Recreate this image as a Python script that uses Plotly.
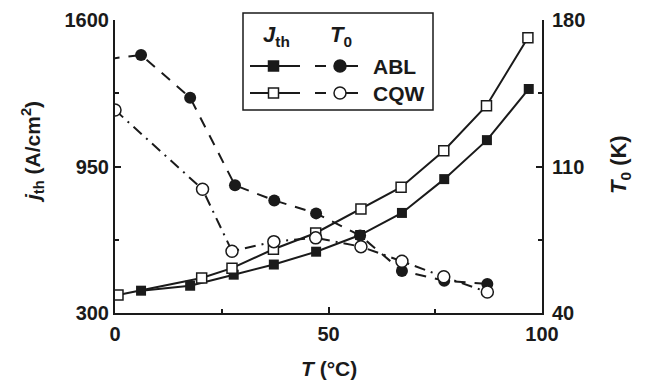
import plotly.graph_objects as go

# ---- data ----
T_abl_J = [6.1, 17.6, 27.8, 37.2, 47.1, 57.4, 67.2, 77.1, 87.1, 96.9]
J_abl = [399, 421, 470, 515, 572, 646, 744, 894, 1067, 1294]

T_cqw_J = [0.7, 20.3, 27.4, 37.1, 47.0, 57.6, 67.0, 77.0, 87.0, 96.7]
J_cqw = [380, 455, 499, 583, 655, 761, 858, 1020, 1220, 1521]

T_abl_T0 = [-1.5, 6.1, 17.6, 28.1, 37.3, 47.1, 57.4, 67.2, 77.1, 87.2]
T0_abl = [161.4, 163.3, 142.9, 101.0, 93.8, 87.6, 77.0, 60.1, 55.4, 53.9]

T_cqw_T0 = [0.0, 20.5, 27.4, 37.2, 47.0, 57.6, 67.2, 77.0, 87.2]
T0_cqw = [137.0, 99.1, 69.5, 74.1, 75.9, 71.7, 64.7, 57.3, 50.0]

x_ticks = [0, 50, 100]
j_ticks = [300, 950, 1600]
t0_ticks = [40, 110, 180]

FONT = "Liberation Sans, Arial, sans-serif"
INK = "#1a1a1a"
W, H = 649, 384
L, R, T, B = 115, 542, 20, 313  # plot area in pixels

fig = go.Figure()

fig.add_trace(go.Scatter(
    x=T_abl_J, y=J_abl, mode="lines+markers", name="ABL Jth",
    line=dict(color=INK, width=2),
    marker=dict(symbol="square", size=10, color=INK),
))
fig.add_trace(go.Scatter(
    x=T_cqw_J, y=J_cqw, mode="lines+markers", name="CQW Jth",
    line=dict(color=INK, width=2),
    marker=dict(symbol="square", size=10, color="white",
                line=dict(color=INK, width=1.5)),
))
fig.add_trace(go.Scatter(
    x=T_abl_T0, y=T0_abl, mode="lines+markers", name="ABL T0", yaxis="y2",
    line=dict(color=INK, width=2, dash="11px,9px"),
    marker=dict(symbol="circle", size=12, color=INK),
))
fig.add_trace(go.Scatter(
    x=T_cqw_T0, y=T0_cqw, mode="lines+markers", name="CQW T0", yaxis="y2",
    line=dict(color=INK, width=2, dash="11px,6px,2px,6px"),
    marker=dict(symbol="circle", size=12, color="white",
                line=dict(color=INK, width=1.5)),
))

tickfont = dict(family=FONT, size=20, color=INK, weight="bold")
common = dict(showline=True, linewidth=2, linecolor=INK, ticks="inside",
              tickwidth=2, ticklen=6, tickcolor=INK, showgrid=False,
              zeroline=False, tickfont=tickfont, automargin=False)
minor_style = dict(ticks="inside", ticklen=4, tickwidth=2, tickcolor=INK)

fig.update_layout(
    width=W, height=H,
    margin=dict(l=L, r=W - R, t=T, b=H - B, pad=0),
    plot_bgcolor="white", paper_bgcolor="white",
    showlegend=False,
    xaxis=dict(range=[0, 100], tickvals=x_ticks, ticktext=[str(v) for v in x_ticks],
               minor=dict(tickvals=[25, 75], **minor_style), ticklabelstandoff=2, **common),
    yaxis=dict(range=[300, 1600], tickvals=j_ticks, ticktext=[str(v) for v in j_ticks],
               minor=dict(tickvals=[625, 1275], **minor_style), **common),
    yaxis2=dict(range=[40, 180], overlaying="y", side="right",
                tickvals=t0_ticks, ticktext=[str(v) for v in t0_ticks],
                minor=dict(tickvals=[75, 145], **minor_style), ticklabelstandoff=4, **common),
)


def px(x):
    return (x - L) / (R - L)


def py(y):
    return (B - y) / (B - T)


shapes = []
ann = []

# legend box
shapes.append(dict(type="rect", xref="paper", yref="paper",
                   x0=px(243), x1=px(433), y0=py(110), y1=py(13),
                   line=dict(color=INK, width=1.5), fillcolor="white", layer="above"))

rows = [(66, INK, "ABL"), (93, "white", "CQW")]
for yy, fill, lab in rows:
    shapes.append(dict(type="line", xref="paper", yref="paper",
                       x0=px(250), x1=px(300), y0=py(yy), y1=py(yy),
                       line=dict(color=INK, width=2)))
    shapes.append(dict(type="rect", xref="paper", yref="paper",
                       x0=px(268.5), x1=px(278.5), y0=py(yy + 5), y1=py(yy - 5),
                       fillcolor=fill, line=dict(color=INK, width=1.5)))
    shapes.append(dict(type="line", xref="paper", yref="paper",
                       x0=px(315), x1=px(326), y0=py(yy), y1=py(yy),
                       line=dict(color=INK, width=2)))
    shapes.append(dict(type="line", xref="paper", yref="paper",
                       x0=px(345), x1=px(358), y0=py(yy), y1=py(yy),
                       line=dict(color=INK, width=2)))
    shapes.append(dict(type="circle", xref="paper", yref="paper",
                       x0=px(334), x1=px(346), y0=py(yy + 6), y1=py(yy - 6),
                       fillcolor=fill, line=dict(color=INK, width=1.5)))
    ann.append(dict(xref="paper", yref="paper", x=px(371), y=py(yy), xanchor="left",
                    yanchor="middle", showarrow=False, text=f"<b>{lab}</b>",
                    font=dict(family=FONT, size=21, color=INK)))

ann.append(dict(xref="paper", yref="paper", x=px(276), y=py(36), xanchor="center",
                yanchor="middle", showarrow=False, text="<b><i>J</i><sub>th</sub></b>",
                font=dict(family=FONT, size=22, color=INK)))
ann.append(dict(xref="paper", yref="paper", x=px(341), y=py(36), xanchor="center",
                yanchor="middle", showarrow=False, text="<b><i>T</i><sub>0</sub></b>",
                font=dict(family=FONT, size=22, color=INK)))

# axis titles
ann.append(dict(xref="paper", yref="paper", x=px(329), y=py(368), xanchor="center",
                yanchor="middle", showarrow=False, text="<b><i>T</i> (°C)</b>",
                font=dict(family=FONT, size=21, color=INK)))
ann.append(dict(xref="paper", yref="paper", x=px(32), y=py(152), xanchor="center",
                yanchor="middle", showarrow=False, textangle=-90,
                text="<b><i>j</i><sub>th</sub> (A/cm<sup>2</sup>)</b>",
                font=dict(family=FONT, size=21, color=INK)))
ann.append(dict(xref="paper", yref="paper", x=px(620), y=py(165), xanchor="center",
                yanchor="middle", showarrow=False, textangle=-90,
                text="<b><i>T</i><sub>0</sub> (K)</b>",
                font=dict(family=FONT, size=22, color=INK)))

fig.update_layout(shapes=shapes, annotations=ann)

fig.write_html("out.html", config={"displayModeBar": False},
               post_script="document.body.style.margin='0';document.body.style.padding='0';")
